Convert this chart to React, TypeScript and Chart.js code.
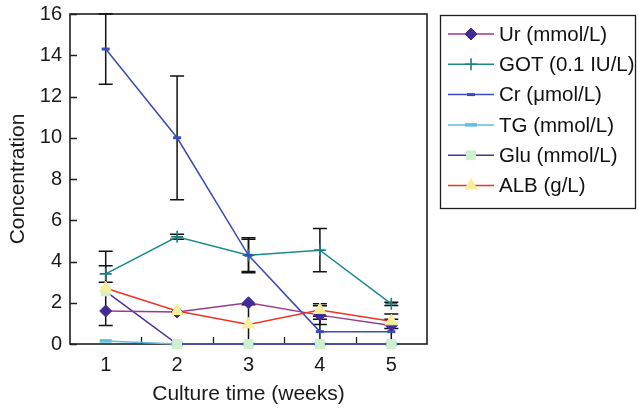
import React, { useEffect, useRef } from "react";
import { Chart, registerables } from "chart.js";
import { drawPoint } from "chart.js/helpers";

Chart.register(...registerables);

// ---- data ----
const weeks = [1, 2, 3, 4, 5];
const yTicks = [0, 2, 4, 6, 8, 10, 12, 14, 16];
const xMinorTicks = [1.5, 2.5, 3.5, 4.5];

const urValues = [1.6, 1.55, 2.0, 1.4, 0.9];
const gotValues = [3.4, 5.2, 4.3, 4.55, 1.95];
const crValues = [14.3, 10.0, 4.3, 0.6, 0.6];
const tgValues = [0.15, 0, 0, 0, 0];
const gluValues = [2.55, 0, 0, 0, 0];
const albValues = [2.7, 1.6, 0.95, 1.65, 1.1];

const urErr = [0, 0, 0, 0.45, 0];
const gotErr = [0.4, 0.12, 0.78, 1.05, 0.08];
const crErr = [1.7, 3.0, 0.85, 0.6, 0.6];
const tgErr = [0, 0, 0, 0, 0];
const gluErr = [0, 0, 0, 0, 0];
const albErr = [1.8, 0, 0.95, 0.3, 0.35];

const labels = ["Ur (mmol/L)", "GOT (0.1 IU/L)", "Cr (\u03bcmol/L)", "TG (mmol/L)", "Glu (mmol/L)", "ALB (g/L)"];

// ---- styles ----
const FONT = "'Liberation Sans', Arial, Helvetica, sans-serif";

type Series = {
  label: string;
  values: number[];
  err: number[];
  line: string;
  pointStyle: string;
  pointFill: string;
  pointBorder: string;
  radius: number;
  pointBorderWidth: number;
  drawRank: number;
};

const series: Series[] = [
  { label: labels[0], values: urValues, err: urErr, line: "#9a3a8b", pointStyle: "rectRot", pointFill: "#432a98", pointBorder: "#432a98", radius: 6, pointBorderWidth: 1, drawRank: 1 },
  { label: labels[1], values: gotValues, err: gotErr, line: "#1b8a8a", pointStyle: "cross", pointFill: "#1b8a8a", pointBorder: "#1b7f80", radius: 6, pointBorderWidth: 1.6, drawRank: 3 },
  { label: labels[2], values: crValues, err: crErr, line: "#3a4cb6", pointStyle: "line", pointFill: "#3a4cb6", pointBorder: "#3a4cb6", radius: 4, pointBorderWidth: 3, drawRank: 2 },
  { label: labels[3], values: tgValues, err: tgErr, line: "#5fbde6", pointStyle: "line", pointFill: "#5fbde6", pointBorder: "#5fbde6", radius: 6, pointBorderWidth: 3.5, drawRank: 5 },
  { label: labels[4], values: gluValues, err: gluErr, line: "#4b2f9c", pointStyle: "rect", pointFill: "#cff0cf", pointBorder: "#cff0cf", radius: 7, pointBorderWidth: 0, drawRank: 4 },
  { label: labels[5], values: albValues, err: albErr, line: "#ec3524", pointStyle: "triangle", pointFill: "#f5ee9a", pointBorder: "#f5ee9a", radius: 7, pointBorderWidth: 1, drawRank: 0 },
];

const frameTicksPlugin = {
  id: "frameTicks",
  beforeDatasetsDraw(chart: any) {
    const { ctx, chartArea } = chart;
    const { left, right, top, bottom } = chartArea;
    const ys = chart.scales.y;
    const xs = chart.scales.x;
    ctx.save();
    ctx.strokeStyle = "#1e1e1e";
    ctx.lineWidth = 1.6;
    ctx.strokeRect(left, top, right - left, bottom - top);
    ctx.lineWidth = 1.3;
    ctx.beginPath();
    yTicks.forEach((v) => {
      const py = Math.round(ys.getPixelForValue(v)) + 0.5;
      ctx.moveTo(left, py);
      ctx.lineTo(left + 7, py);
    });
    xMinorTicks.forEach((v) => {
      const px = Math.round(xs.getPixelForValue(v)) + 0.5;
      ctx.moveTo(px, bottom);
      ctx.lineTo(px, bottom - 7);
    });
    ctx.stroke();

    // error bars
    ctx.strokeStyle = "#111111";
    ctx.lineWidth = 1.5;
    series.forEach((s) => {
      s.err.forEach((e, i) => {
        if (!e) return;
        const px = xs.getPixelForValue(weeks[i]);
        const yHi = ys.getPixelForValue(s.values[i] + e);
        const yLo = ys.getPixelForValue(Math.max(0, s.values[i] - e));
        ctx.beginPath();
        ctx.moveTo(px, yHi);
        ctx.lineTo(px, yLo);
        ctx.moveTo(px - 7, yHi);
        ctx.lineTo(px + 7, yHi);
        ctx.moveTo(px - 7, yLo);
        ctx.lineTo(px + 7, yLo);
        ctx.stroke();
      });
    });
    ctx.restore();
  },
};

const legendPlugin = {
  id: "boxLegend",
  afterDraw(chart: any) {
    const { ctx } = chart;
    ctx.save();
    ctx.strokeStyle = "#1e1e1e";
    ctx.lineWidth = 1.3;
    ctx.strokeRect(440.5, 15.5, 195, 193);
    series.forEach((s, i) => {
      const y = 34 + i * 30.3;
      ctx.strokeStyle = s.line;
      ctx.lineWidth = 1.5;
      ctx.beginPath();
      ctx.moveTo(448, y);
      ctx.lineTo(494, y);
      ctx.stroke();
      ctx.fillStyle = s.pointFill;
      ctx.strokeStyle = s.pointBorder;
      ctx.lineWidth = s.pointBorderWidth;
      drawPoint(ctx, { pointStyle: s.pointStyle as any, radius: s.radius, rotation: 0, borderWidth: s.pointBorderWidth }, 471, y);
      ctx.fillStyle = "#111111";
      ctx.font = `20.5px ${FONT}`;
      ctx.textBaseline = "middle";
      ctx.textAlign = "left";
      ctx.fillText(s.label, 499, y + 1);
    });
    ctx.restore();
  },
};

export default function App() {
  const canvasRef = useRef<HTMLCanvasElement | null>(null);

  useEffect(() => {
    document.body.style.margin = "0";
    const canvas = canvasRef.current;
    if (!canvas) return;
    const datasets = series.map((s) => ({
      label: s.label,
      data: s.values.map((v, i) => ({ x: weeks[i], y: v })),
      borderColor: s.line,
      borderWidth: 1.5,
      backgroundColor: s.pointFill,
      pointStyle: s.pointStyle as any,
      pointRadius: s.radius,
      pointBackgroundColor: s.pointFill,
      pointBorderColor: s.pointBorder,
      pointBorderWidth: s.pointBorderWidth,
      pointHoverRadius: s.radius,
      tension: 0,
      fill: false,
      clip: false,
      order: s.drawRank,
    }));

    const chart = new Chart(canvas, {
      type: "line",
      data: { datasets },
      options: {
        responsive: false,
        animation: false,
        devicePixelRatio: 1,
        layout: { padding: { top: 14, right: 211, left: 0, bottom: 0 } },
        plugins: { legend: { display: false }, tooltip: { enabled: false } },
        scales: {
          x: {
            type: "linear",
            min: 0.5,
            max: 5.5,
            grid: { display: false, drawTicks: false },
            border: { display: false },
            afterBuildTicks: (scale: any) => {
              scale.ticks = weeks.map((v) => ({ value: v }));
            },
            afterFit: (scale: any) => {
              scale.height = 65;
              scale.paddingLeft = 0;
              scale.paddingRight = 0;
            },
            ticks: {
              padding: 9,
              color: "#1a1a1a",
              font: { size: 20, family: FONT },
              maxRotation: 0,
              callback: (v: any) => String(v),
            },
            title: {
              display: true,
              text: "Culture time (weeks)",
              color: "#1a1a1a",
              font: { size: 21, family: FONT },
              padding: { top: 0, bottom: 2 },
            },
          },
          y: {
            type: "linear",
            min: 0,
            max: 16,
            grid: { display: false, drawTicks: false },
            border: { display: false },
            afterBuildTicks: (scale: any) => {
              scale.ticks = yTicks.map((v) => ({ value: v }));
            },
            afterFit: (scale: any) => {
              scale.width = 70;
              scale.paddingTop = 0;
              scale.paddingBottom = 0;
            },
            ticks: {
              padding: 8,
              color: "#1a1a1a",
              font: { size: 20, family: FONT },
              callback: (v: any) => String(v),
            },
            title: {
              display: true,
              text: "Concentration",
              color: "#1a1a1a",
              font: { size: 21, family: FONT },
              padding: { top: 6, bottom: 0 },
            },
          },
        },
      },
      plugins: [frameTicksPlugin, legendPlugin],
    } as any);

    return () => chart.destroy();
  }, []);

  return (
    <div style={{ width: 638, height: 409 }}>
      <canvas ref={canvasRef} width={638} height={409} style={{ display: "block" }} />
    </div>
  );
}
